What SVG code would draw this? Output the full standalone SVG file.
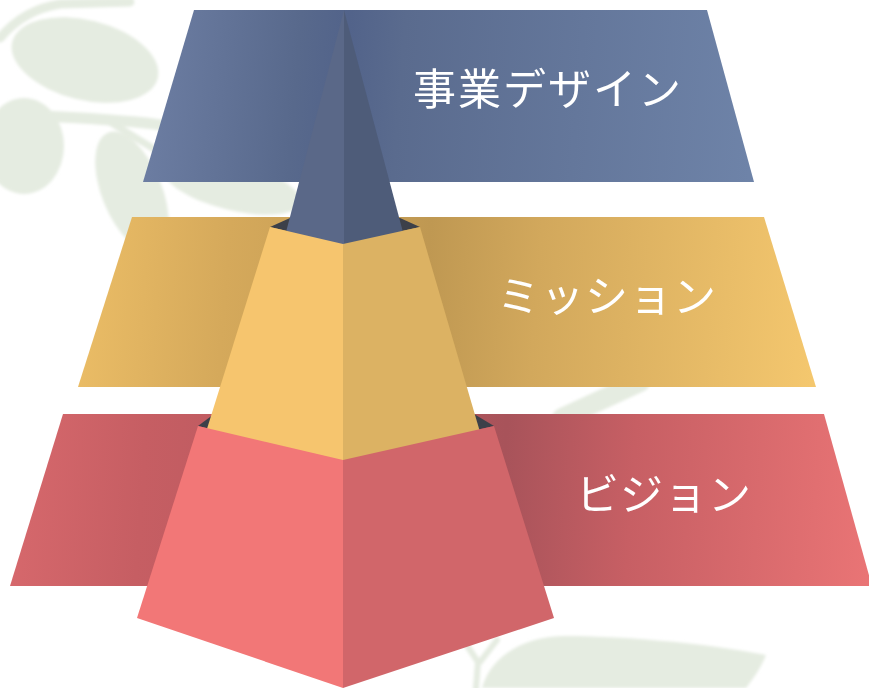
<svg xmlns="http://www.w3.org/2000/svg" width="869" height="688" viewBox="0 0 869 688">
  <defs>
    <filter id="soft" x="-10%" y="-10%" width="120%" height="120%">
      <feGaussianBlur stdDeviation="1.6"/>
    </filter>
    <linearGradient id="gBlue" gradientUnits="userSpaceOnUse" x1="143" y1="70" x2="754" y2="120">
      <stop offset="0" stop-color="#6d7ea3"/>
      <stop offset="0.25" stop-color="#58698c"/>
      <stop offset="0.33" stop-color="#52638a"/>
      <stop offset="0.42" stop-color="#5a6b8e"/>
      <stop offset="1" stop-color="#6e83a8"/>
    </linearGradient>
    <linearGradient id="gGold" gradientUnits="userSpaceOnUse" x1="78" y1="270" x2="816" y2="330">
      <stop offset="0" stop-color="#ebbd66"/>
      <stop offset="0.2" stop-color="#d5a95b"/>
      <stop offset="0.47" stop-color="#bf9852"/>
      <stop offset="0.62" stop-color="#d2a85c"/>
      <stop offset="1" stop-color="#f4c76e"/>
    </linearGradient>
    <linearGradient id="gRed" gradientUnits="userSpaceOnUse" x1="14" y1="470" x2="870" y2="530">
      <stop offset="0" stop-color="#d6686c"/>
      <stop offset="0.15" stop-color="#c65e63"/>
      <stop offset="0.57" stop-color="#a8535a"/>
      <stop offset="0.72" stop-color="#c75f64"/>
      <stop offset="1" stop-color="#e97475"/>
    </linearGradient>
  </defs>
  <style>
    .label { font-family: "Noto Sans CJK JP", "Noto Sans", sans-serif; font-size: 43px; font-weight: 400; fill: #ffffff; }
    .leaf { fill: #e5ece1; }
    .stem { fill: none; stroke: #e5ece1; stroke-linecap: round; }
    .hole { fill: #3c4049; }
  </style>

  <rect width="869" height="688" fill="#ffffff"/>

  <!-- faint branch in the background -->
  <g id="branch" filter="url(#soft)">
    <path class="stem" stroke-width="9" d="M0,38 C15,20 35,8 60,4 L130,2"/>
    <path class="stem" stroke-width="11" d="M40,116 C80,118 130,120 168,126"/>
    <path class="stem" stroke-width="7" d="M110,122 C140,140 170,160 200,175"/>
    <ellipse class="leaf" cx="85" cy="60" rx="75" ry="40" transform="rotate(14 85 60)"/>
    <ellipse class="leaf" cx="24" cy="146" rx="40" ry="48"/>
    <ellipse class="leaf" cx="132" cy="192" rx="30" ry="64" transform="rotate(-22 132 192)"/>
    <ellipse class="leaf" cx="232" cy="186" rx="70" ry="24" transform="rotate(14 232 186)"/>
    <path class="stem" stroke-width="20" d="M562,418 L640,382"/>
    <path class="leaf" d="M482,688 C492,652 530,636 565,636 C615,636 700,642 766,655 C760,670 752,680 746,688 Z"/>
    <path class="stem" stroke-width="6" d="M462,638 L478,662 L476,688 M497,640 L480,662"/>
  </g>

  <!-- top tier -->
  <g id="tier-design">
    <polygon points="194,10 707,10 754,182 143,182" fill="url(#gBlue)"/>
    <text class="label" x="413" y="105" letter-spacing="2">事業デザイン</text>
  </g>

  <!-- middle tier -->
  <g id="tier-mission">
    <polygon points="132,217 764,217 816,387 78,387" fill="url(#gGold)"/>
    <text class="label" x="497" y="312" letter-spacing="1">ミッション</text>
  </g>

  <!-- bottom tier -->
  <g id="tier-vision">
    <polygon points="63,414 824,414 872,586 10,586" fill="url(#gRed)"/>
    <text class="label" x="576" y="510" letter-spacing="1">ビジョン</text>
  </g>

  <!-- stacked pyramid: openings first, then the blocks from top to bottom -->
  <g id="pyramid-openings">
    <polygon class="hole" points="198,426 214,414 474,414 494,426 343,460"/>
    <polygon class="hole" points="270,227 290,218 400,218 420,227 343,244"/>
  </g>
  <g id="pyramid-top">
    <polygon points="344,10 344,250 285,236" fill="#5a6888"/>
    <polygon points="344,10 404,236 344,250" fill="#4e5c79"/>
  </g>
  <g id="pyramid-middle">
    <polygon points="270,227 343,244 343,470 206,432" fill="#f6c56e"/>
    <polygon points="343,244 420,227 480,432 343,470" fill="#dcb263"/>
  </g>
  <g id="pyramid-base">
    <polygon points="198,426 343,460 343,688 137,618" fill="#f27777"/>
    <polygon points="343,460 494,426 554,618 343,688" fill="#d1666a"/>
  </g>
</svg>
